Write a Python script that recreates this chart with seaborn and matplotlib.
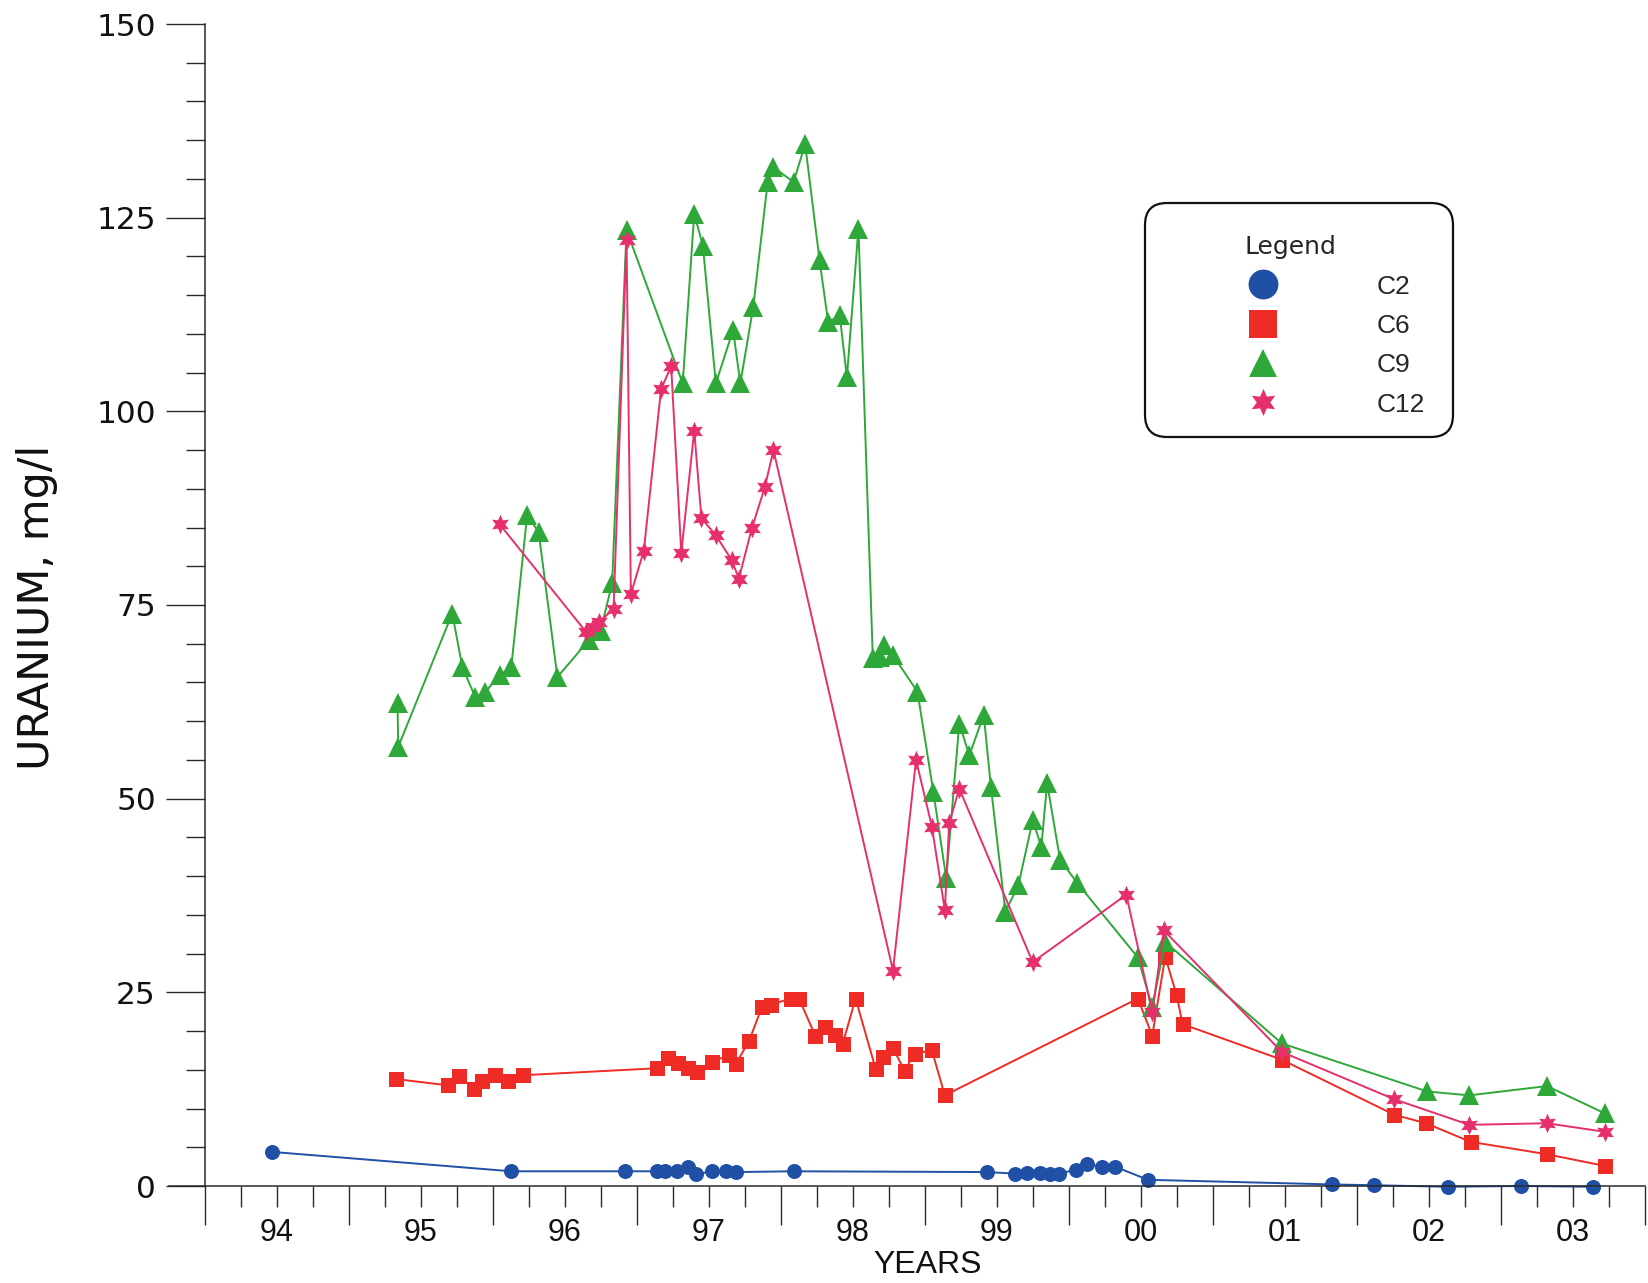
import matplotlib
matplotlib.use("Agg")
import numpy as np
import pandas as pd
import matplotlib.pyplot as plt
import seaborn as sns
from matplotlib.lines import Line2D
from matplotlib.patches import FancyBboxPatch
from matplotlib.ticker import MultipleLocator

# ---------------- data (decimal year, uranium mg/l) ----------------
c2_year = [1994.47, 1996.13, 1996.92, 1997.14, 1997.20, 1997.28, 1997.36, 1997.41,
           1997.52, 1997.62, 1997.69, 1998.09, 1999.43, 1999.63, 1999.71, 1999.80,
           1999.87, 1999.93, 2000.05, 2000.13, 2000.23, 2000.32, 2000.55, 2001.83,
           2002.12, 2002.63, 2003.14, 2003.64]
c2_val = [4.4, 1.9, 1.9, 1.9, 1.9, 1.9, 2.4, 1.5,
          1.9, 1.9, 1.8, 1.9, 1.8, 1.6, 1.7, 1.7,
          1.6, 1.6, 2.1, 2.8, 2.5, 2.5, 0.8, 0.2,
          0.1, -0.1, 0.0, -0.1]

c6_year = [1995.33, 1995.69, 1995.77, 1995.87, 1995.93, 1996.02, 1996.11, 1996.21,
           1997.14, 1997.22, 1997.29, 1997.36, 1997.42, 1997.52, 1997.64, 1997.69,
           1997.78, 1997.87, 1997.93, 1998.07, 1998.13, 1998.24, 1998.31, 1998.38,
           1998.43, 1998.52, 1998.66, 1998.71, 1998.78, 1998.86, 1998.93, 1999.05,
           1999.14, 2000.48, 2000.58, 2000.67, 2000.75, 2000.79, 2001.48, 2002.26,
           2002.48, 2002.79, 2003.32, 2003.72]
c6_val = [13.8, 13.0, 14.2, 12.5, 13.6, 14.3, 13.5, 14.3,
          15.2, 16.5, 15.9, 15.2, 14.7, 16.0, 16.9, 15.8,
          18.7, 23.1, 23.4, 24.2, 24.1, 19.4, 20.5, 19.5,
          18.3, 24.2, 15.1, 16.7, 17.8, 14.9, 17.1, 17.5,
          11.7, 24.2, 19.4, 29.6, 24.6, 20.9, 16.3, 9.2,
          8.1, 5.7, 4.1, 2.6]

c9_year = [1995.34, 1995.345, 1995.72, 1995.79, 1995.88, 1995.95, 1996.05, 1996.13,
           1996.24, 1996.32, 1996.45, 1996.67, 1996.75, 1996.83, 1996.93, 1997.32,
           1997.40, 1997.46, 1997.55, 1997.67, 1997.72, 1997.81, 1997.91, 1997.95,
           1998.09, 1998.17, 1998.27, 1998.33, 1998.41, 1998.46, 1998.54, 1998.64,
           1998.69, 1998.72, 1998.78, 1998.95, 1999.06, 1999.15, 1999.24, 1999.31,
           1999.41, 1999.46, 1999.56, 1999.65, 1999.75, 1999.81, 1999.85, 1999.94,
           2000.06, 2000.48, 2000.58, 2000.67, 2001.48, 2002.49, 2002.78, 2003.32,
           2003.72]
c9_val = [62.3, 56.7, 73.9, 67.0, 63.1, 63.8, 65.9, 67.0,
          86.6, 84.4, 65.7, 70.5, 71.7, 77.8, 123.4, 103.6,
          125.5, 121.4, 103.6, 110.5, 103.6, 113.5, 129.6, 131.5,
          129.6, 134.5, 119.5, 111.5, 112.4, 104.4, 123.6, 68.1,
          68.3, 69.8, 68.5, 63.8, 50.9, 39.7, 59.7, 55.6,
          60.8, 51.5, 35.4, 38.8, 47.2, 43.8, 52.0, 42.1,
          39.1, 29.5, 23.1, 31.5, 18.4, 12.2, 11.7, 12.9,
          9.4]

c12_year = [1996.05, 1996.65, 1996.70, 1996.74, 1996.84, 1996.93, 1996.96, 1997.05,
            1997.17, 1997.24, 1997.31, 1997.40, 1997.45, 1997.55, 1997.66, 1997.71,
            1997.80, 1997.89, 1997.95, 1998.78, 1998.94, 1999.05, 1999.14, 1999.17,
            1999.24, 1999.75, 2000.40, 2000.58, 2000.66, 2001.48, 2002.26, 2002.78,
            2003.32, 2003.72]
c12_val = [85.4, 71.5, 72.2, 72.8, 74.5, 122.1, 76.4, 82.0,
           102.9, 105.8, 81.7, 97.5, 86.2, 84.0, 80.8, 78.4,
           84.9, 90.2, 95.0, 27.8, 55.0, 46.4, 35.6, 46.8,
           51.3, 28.9, 37.6, 22.4, 33.0, 17.3, 11.2, 7.9,
           8.1, 7.0]

series_names = ["C2", "C6", "C9", "C12"]
year_ticks = list(range(1994, 2005))
year_labels = ["94", "95", "96", "97", "98", "99", "00", "01", "02", "03"]
y_ticks = [0, 25, 50, 75, 100, 125, 150]

# ---------------- style ----------------
sns.set_theme(style="ticks")
plt.rcParams["font.family"] = ["DejaVu Sans"]
narrow = ["Liberation Sans Narrow", "Liberation Sans", "DejaVu Sans"]
arial = ["Liberation Sans", "DejaVu Sans"]

colors = {"C2": "#1f50a6", "C6": "#ee2b24", "C9": "#2ea838", "C12": "#e5306c"}
markers = {"C2": "o", "C6": "s", "C9": "^", "C12": (6, 1, 0)}
msize = {"C2": 10.8, "C6": 10.8, "C9": 14.4, "C12": 14.0}
lsize = {"C2": 21.5, "C6": 20.0, "C9": 20.5, "C12": 19.5}

W, H = 1648, 1283
fig = plt.figure(figsize=(W / 100, H / 100), dpi=100)
ax = fig.add_axes([168.5 / W, 97 / H, (1645 - 168.5) / W, 1162 / H])

data = {"C2": (c2_year, c2_val), "C6": (c6_year, c6_val),
        "C9": (c9_year, c9_val), "C12": (c12_year, c12_val)}

for name in series_names:
    xs, ys = data[name]
    df = pd.DataFrame({"year": xs, "uranium": ys})
    sns.lineplot(data=df, x="year", y="uranium", ax=ax, sort=False, estimator=None,
                 color=colors[name], linewidth=1.4, marker=markers[name],
                 markersize=msize[name], markeredgewidth=0, clip_on=False)

ax.set_xlabel("")
ax.set_ylabel("")
ax.set_xlim(1993.75, 2004.001)
ax.set_ylim(0, 150)

for s in ["top", "right"]:
    ax.spines[s].set_visible(False)
ax.spines["left"].set_position(("data", 1994.0))
for s in ["left", "bottom"]:
    ax.spines[s].set_color("#2a2a2a")
    ax.spines[s].set_linewidth(1.1)

# y axis ticks
ax.set_yticks(y_ticks, labels=[str(v) for v in y_ticks], fontsize=22.5)
ax.yaxis.set_minor_locator(MultipleLocator(5))
ax.tick_params(axis="y", which="major", length=28, width=1.0, direction="out",
               color="#2a2a2a", labelcolor="#111111", pad=7, left=True)
ax.tick_params(axis="y", which="minor", length=14, width=1.0, direction="out",
               color="#2a2a2a", left=True)

# x axis ticks: long at year boundaries, short quarterly, labels mid-year
ax.set_xticks(year_ticks, labels=[""] * len(year_ticks))
minor_pos, minor_lab = [], []
for i, lab in enumerate(year_labels):
    for q, txt in ((0.25, ""), (0.5, lab), (0.75, "")):
        minor_pos.append(year_ticks[i] + q)
        minor_lab.append(txt)
ax.set_xticks(minor_pos, labels=minor_lab, minor=True, fontsize=22, fontfamily=narrow)
ax.tick_params(axis="x", which="major", length=28, width=1.0, direction="out",
               color="#2a2a2a", bottom=True)
ax.tick_params(axis="x", which="minor", length=15, width=1.0, direction="out",
               color="#2a2a2a", labelcolor="#111111", pad=8, bottom=True)

# axis titles
fig.text(37 / W, 1 - 607 / H, "URANIUM, mg/l", rotation=90, ha="center", va="center",
         fontsize=31, color="#111111")
fig.text(928 / W, 1 - 1265 / H, "YEARS", ha="center", va="center",
         fontsize=23, fontfamily=narrow, color="#111111")

# legend
handles = [Line2D([], [], linestyle="None", marker=markers[n], color=colors[n],
                  markersize=lsize[n], markeredgewidth=0) for n in series_names]
leg = ax.legend(handles, series_names, title="Legend", loc="center",
                bbox_to_anchor=(1290 / W, 1 - 326 / H), bbox_transform=fig.transFigure,
                frameon=False, prop={"family": arial, "size": 19},
                title_fontproperties={"family": ["DejaVu Sans"], "size": 18},
                handlelength=8.2, handletextpad=0.2, labelspacing=0.58, borderpad=0.2)

frame = FancyBboxPatch((1145 / 100, (H - 437) / 100), 308 / 100, 234 / 100,
                       boxstyle="round,pad=0,rounding_size=0.22",
                       transform=fig.dpi_scale_trans, fill=False,
                       edgecolor="#111111", linewidth=1.6)
fig.add_artist(frame)

fig.savefig("out.png", dpi=100, facecolor="white")
